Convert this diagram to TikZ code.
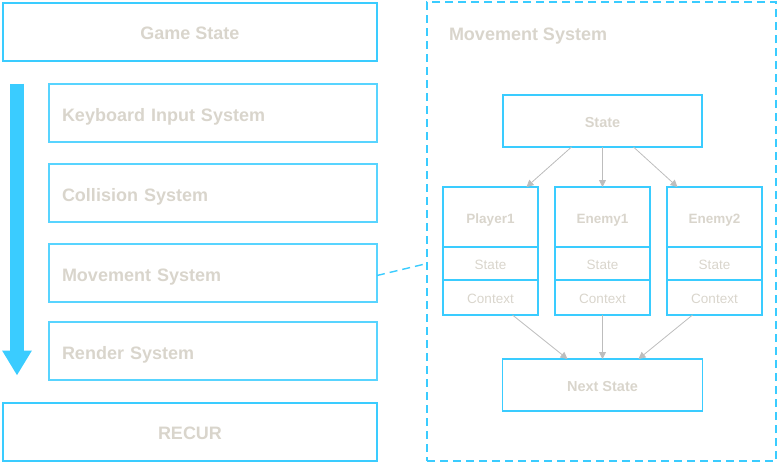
\documentclass[tikz,border=0pt]{standalone}
\usepackage{fontspec}
\setmainfont{Liberation Sans}
\usetikzlibrary{positioning,arrows.meta}
\definecolor{sky}{HTML}{3ACCFF}
\definecolor{ink}{HTML}{D9D5CC}
\definecolor{wire}{HTML}{BDBDBD}

\begin{document}
\begin{tikzpicture}[x=1pt, y=1pt, node distance=22pt and 17pt, every node/.style={outer sep=0pt},
  big/.style={draw=sky, line width=2pt, minimum width=374pt, minimum height=58pt, inner sep=0pt,
    text height=16pt, text depth=0pt, text=ink, font=\fontsize{18}{20}\selectfont\bfseries},
  sys/.style={big, draw=sky!85, minimum width=328pt, text width=302pt, align=left, inner xsep=13pt,
    text height=18pt},
  ent/.style={draw=sky, line width=1.8pt, minimum width=95pt, minimum height=60pt, inner sep=0pt,
    text height=12pt, text depth=0pt, text=ink, font=\fontsize{13.5}{15}\selectfont\bfseries},
  row/.style={ent, minimum height=33pt, font=\fontsize{13.5}{15}\selectfont},
  mid/.style={ent, minimum width=199pt, minimum height=52pt, text height=13.5pt,
    font=\fontsize{14.5}{16}\selectfont\bfseries},
  frame/.style={draw=sky, line width=1.8pt, dash pattern=on 8pt off 5pt},
  arr/.style={draw=wire, line width=0.8pt, -{Triangle[length=7pt, width=7pt]}},
  flow/.style={draw=sky, line width=14pt, -{Triangle[length=25pt, width=28pt]}}]
\useasboundingbox (0,0) rectangle (780,-466);
\node[big] (gs) at (190,-31.5) {Game State};
\node[sys, below left=23pt and 0pt of gs.south east] (kb) {Keyboard Input System};
\node[sys, below=of kb] (col) {Collision System};
\node[sys, below=of col] (mov) {Movement System};
\node[sys, below=20pt of mov] (ren) {Render System};
\node[big, below left=23pt and 0pt of ren.south east] (rec) {RECUR};
\draw[flow] ([xshift=-32pt]kb.north west) -- ([xshift=-32pt, yshift=4pt]ren.south west);

\node[frame, minimum width=349pt, minimum height=459pt] (ms) at (601.5,-231.5) {};
\node[anchor=base west, inner sep=0pt, text=ink, font=\fontsize{18}{20}\selectfont\bfseries] (mst)
  at (449,-40) {Movement System};
\node[mid] (st) at (602.5,-121) {State};
\node[ent, below=40pt of st] (e1) {Enemy1};
\node[ent, left=of e1] (p1) {Player1};
\node[ent, right=of e1] (e2) {Enemy2};
\foreach \n in {p1,e1,e2} {
  \node[row, below=0pt of \n] (\n-s) {State};
  \node[row, minimum height=35pt, below=0pt of \n-s] (\n-c) {Context};
}
\node[mid, minimum width=200pt, below=44pt of e1-c] (nx) {Next State};

\draw[arr] ([xshift=-31pt]st.south) -- ([xshift=36pt]p1.north);
\draw[arr] (st) -- (e1);
\draw[arr] ([xshift=31pt]st.south) -- ([xshift=-37pt]e2.north);
\draw[arr] ([xshift=22pt]p1-c.south) -- ([xshift=-35pt]nx.north);
\draw[arr] (e1-c) -- (nx);
\draw[arr] ([xshift=-22pt]e2-c.south) -- ([xshift=36pt]nx.north);
\draw[frame, line width=1.4pt] ([yshift=-3pt]mov.east) -- (ms.west |- p1-s);
\end{tikzpicture}
\end{document}
